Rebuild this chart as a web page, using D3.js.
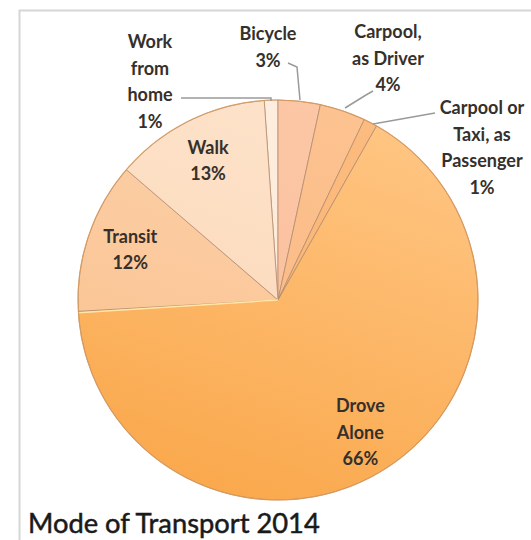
<!DOCTYPE html>
<html>
<head>
<meta charset="utf-8">
<script src="https://cdn.jsdelivr.net/npm/d3@7"></script>
<style>
  html, body { margin: 0; padding: 0; background: #ffffff; }
  svg { display: block; }
</style>
</head>
<body>
<svg id="chart" width="531" height="540"></svg>
<script>
// ---- data ----
const categories = ["Work from home", "Bicycle", "Carpool, as Driver", "Carpool or Taxi, as Passenger", "Drove Alone", "Transit", "Walk"];
const shares = [1.1, 3.4, 3.7, 1.1, 65.9, 12.2, 12.6];
const labelLines = [
  ["Work", "from", "home"],
  ["Bicycle"],
  ["Carpool,", "as Driver"],
  ["Carpool or", "Taxi, as", "Passenger"],
  ["Drove", "Alone"],
  ["Transit"],
  ["Walk"]
];
const title = "Mode of Transport 2014";

// ---- styling / layout ----
const colorsTop = ["#FEEEDF", "#FCC7A6", "#FCC391", "#FCBC80", "#FFC684", "#FCD3AC", "#FDE3CB"];
const colorsBot = ["#FDE6D2", "#FBBC98", "#FBB57E", "#FBB06C", "#FAA84C", "#FAC08E", "#FCD6B5"];
const insideLabel = [false, false, false, false, true, true, true];
const outsideLayout = {
  0: { x: 150, y: 42, line: [[181, 98], [271, 98], [271, 101]] },
  1: { x: 268, y: 34, line: [[288, 63], [297, 67], [300, 100]] },
  2: { x: 388, y: 32, line: [[373, 91], [366, 95], [345, 108]] },
  3: { x: 482, y: 108, line: [[373, 124], [435, 113]] }
};

const svg = d3.select("#chart");
const cx = 278, cy = 300, R = 200;

svg.append("rect")
  .attr("x", 19.5).attr("y", 10.5)
  .attr("width", 620).attr("height", 620)
  .attr("fill", "#ffffff")
  .attr("stroke", "#d6d6d6").attr("stroke-width", 2);

const defs = svg.append("defs");
categories.forEach((c, i) => {
  const gr = defs.append("linearGradient")
    .attr("id", "g" + i)
    .attr("gradientUnits", "userSpaceOnUse")
    .attr("x1", 80).attr("y1", -R)
    .attr("x2", -60).attr("y2", R);
  gr.append("stop").attr("offset", "0%").attr("stop-color", colorsTop[i]);
  gr.append("stop").attr("offset", "100%").attr("stop-color", colorsBot[i]);
});

const total = d3.sum(shares);
const a0 = -2 * Math.PI * shares[0] / total;
const pie = d3.pie().sort(null).value(d => d)
  .startAngle(a0).endAngle(a0 + 2 * Math.PI);
const arcs = pie(shares);

const arc = d3.arc().innerRadius(0).outerRadius(R);
const labelArc = d3.arc().innerRadius(R * 0.78).outerRadius(R * 0.78);

const g = svg.append("g").attr("transform", `translate(${cx},${cy})`);

g.selectAll("path.slice")
  .data(arcs)
  .join("path")
  .attr("class", "slice")
  .attr("d", arc)
  .attr("fill", (d, i) => `url(#g${i})`)
  .attr("stroke", "#b08a6e")
  .attr("stroke-opacity", 0.75)
  .attr("stroke-width", 1);

const bAng = arcs[4].endAngle;
g.append("line")
  .attr("x1", 0).attr("y1", 0)
  .attr("x2", R * Math.sin(bAng)).attr("y2", -R * Math.cos(bAng) + 1.5)
  .attr("stroke", "#FFE7A6").attr("stroke-width", 1.5);

g.append("circle").attr("r", R)
  .attr("fill", "none").attr("stroke", "#D8995A").attr("stroke-width", 1.2).attr("stroke-opacity", 0.8);

const lineGen = d3.line();
Object.keys(outsideLayout).forEach(k => {
  svg.append("path")
    .attr("d", lineGen(outsideLayout[k].line))
    .attr("fill", "none")
    .attr("stroke", "#9a9a9a")
    .attr("stroke-width", 1.5);
});

const fontFam = "Lato, 'Open Sans', sans-serif";
const lh = 26.5;

const probe = svg.append("text").attr("font-family", fontFam).attr("font-weight", "bold")
  .attr("font-size", 15).text("Bicycle");
const labelSize = 15 * 57 / probe.node().getComputedTextLength();
probe.remove();

arcs.forEach((d, i) => {
  const lines = labelLines[i].concat([Math.round(shares[i]) + "%"]);
  let x, y0;
  if (insideLabel[i]) {
    const c = labelArc.centroid(d);
    x = cx + c[0];
    y0 = cy + c[1] - (lines.length - 1) * lh / 2;
  } else {
    x = outsideLayout[i].x;
    y0 = outsideLayout[i].y;
  }
  const t = svg.append("text")
    .attr("text-anchor", "middle")
    .attr("font-family", fontFam)
    .attr("font-weight", "bold")
    .attr("font-size", labelSize)
    .attr("fill", "#35302b");
  lines.forEach((ln, j) => {
    t.append("tspan")
      .attr("x", x)
      .attr("y", y0 + j * lh)
      .attr("dy", "0.35em")
      .text(ln);
  });
});

const tt = svg.append("text")
  .attr("x", 28).attr("y", 533)
  .attr("font-family", fontFam)
  .attr("font-size", 24)
  .attr("fill", "#1a1a1a")
  .attr("stroke", "#1a1a1a")
  .attr("stroke-width", 0.5)
  .text(title);
const w = tt.node().getComputedTextLength();
tt.attr("font-size", 24 * 292 / w);
</script>
</body>
</html>
